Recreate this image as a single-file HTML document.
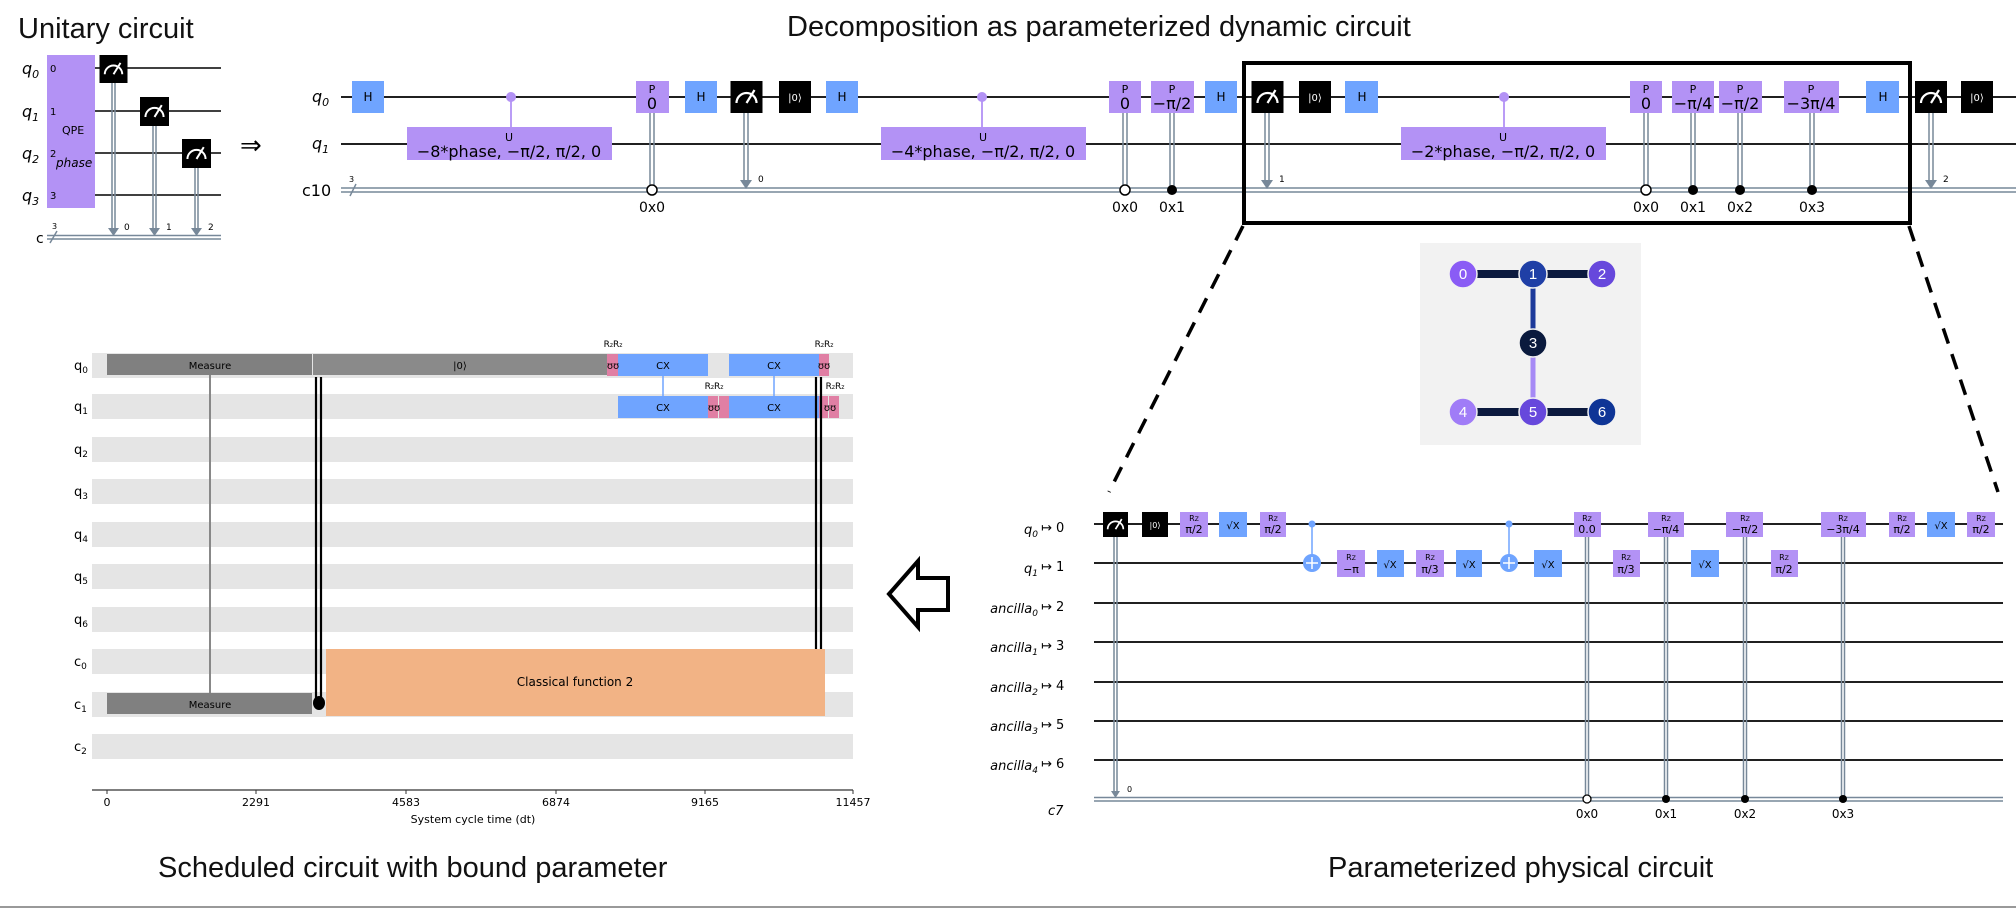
<!DOCTYPE html>
<html><head><meta charset="utf-8"><style>
html,body{margin:0;padding:0;background:#fff;}
svg{display:block;}
.t{font-family:"Liberation Sans",sans-serif;}
.d{font-family:"DejaVu Sans","Liberation Sans",sans-serif;}
</style></head><body>
<svg width="2016" height="910" viewBox="0 0 2016 910" xmlns="http://www.w3.org/2000/svg">
<defs>
<symbol id="meas" viewBox="0 0 32 32">
<rect x="0" y="0" width="32" height="32" fill="#000"/>
<path d="M6 22 A10 10 0 0 1 26 22" fill="none" stroke="#fff" stroke-width="2.2"/>
<line x1="16" y1="22" x2="24" y2="9" stroke="#fff" stroke-width="2.2"/>
</symbol>
</defs>

<!-- Titles -->
<text x="18" y="38" class="t" font-size="29" fill="#111">Unitary circuit</text>
<text x="787" y="36" class="t" font-size="29" fill="#111">Decomposition as parameterized dynamic circuit</text>
<text x="158" y="877" class="t" font-size="29" fill="#111">Scheduled circuit with bound parameter</text>
<text x="1328" y="877" class="t" font-size="29" fill="#111">Parameterized physical circuit</text>
<line x1="0" y1="907" x2="2016" y2="907" stroke="#999" stroke-width="2"/>

<!-- ===== Unitary circuit ===== -->
<g class="d">
<text x="22" y="74" font-size="16" font-style="italic">q<tspan font-size="11" dy="4">0</tspan></text>
<text x="22" y="117" font-size="16" font-style="italic">q<tspan font-size="11" dy="4">1</tspan></text>
<text x="22" y="159" font-size="16" font-style="italic">q<tspan font-size="11" dy="4">2</tspan></text>
<text x="22" y="201" font-size="16" font-style="italic">q<tspan font-size="11" dy="4">3</tspan></text>
<text x="36" y="243" font-size="14">c</text>
<g stroke="#000" stroke-width="1.5">
<line x1="95" y1="68" x2="221" y2="68"/>
<line x1="95" y1="111" x2="221" y2="111"/>
<line x1="95" y1="153" x2="221" y2="153"/>
<line x1="95" y1="195" x2="221" y2="195"/>
</g>
<line x1="47" y1="235.5" x2="221" y2="235.5" stroke="#778899" stroke-width="1.5"/>
<line x1="47" y1="239" x2="221" y2="239" stroke="#778899" stroke-width="1.5"/>
<line x1="50" y1="243" x2="57" y2="231" stroke="#778899" stroke-width="1.5"/>
<text x="52" y="229" font-size="8">3</text>
<rect x="47" y="55" width="48" height="153" fill="#b392f5"/>
<text x="50" y="72" font-size="10">0</text>
<text x="50" y="115" font-size="10">1</text>
<text x="50" y="157" font-size="10">2</text>
<text x="50" y="199" font-size="10">3</text>
<text x="62" y="134" font-size="11">QPE</text>
<text x="56" y="167" font-size="12" font-style="italic">phase</text>
<g stroke="#778899" stroke-width="1.5">
<line x1="112" y1="83" x2="112" y2="229"/><line x1="115" y1="83" x2="115" y2="229"/>
<line x1="153" y1="126" x2="153" y2="229"/><line x1="156" y1="126" x2="156" y2="229"/>
<line x1="195" y1="168" x2="195" y2="229"/><line x1="198" y1="168" x2="198" y2="229"/>
</g>
<polygon points="108,228 119,228 113.5,236" fill="#778899"/>
<polygon points="149,228 160,228 154.5,236" fill="#778899"/>
<polygon points="191,228 202,228 196.5,236" fill="#778899"/>
<text x="124" y="230" font-size="9">0</text>
<text x="166" y="230" font-size="9">1</text>
<text x="208" y="230" font-size="9">2</text>
<use href="#meas" x="99" y="55" width="29" height="28"/>
<use href="#meas" x="140" y="97" width="29" height="29"/>
<use href="#meas" x="182" y="139" width="29" height="29"/>
</g>
<text x="240" y="154" class="d" font-size="26">⇒</text>

<!-- ===== Top dynamic circuit ===== -->
<g class="d">
<text x="312" y="102" font-size="16" font-style="italic">q<tspan font-size="11" dy="4">0</tspan></text>
<text x="312" y="149" font-size="16" font-style="italic">q<tspan font-size="11" dy="4">1</tspan></text>
<text x="302" y="196" font-size="16">c10</text>
<line x1="341" y1="97" x2="2016" y2="97" stroke="#000" stroke-width="1.8"/>
<line x1="341" y1="144" x2="2016" y2="144" stroke="#000" stroke-width="1.8"/>
<line x1="341" y1="188" x2="2016" y2="188" stroke="#778899" stroke-width="1.6"/>
<line x1="341" y1="192" x2="2016" y2="192" stroke="#778899" stroke-width="1.6"/>
<line x1="350" y1="196" x2="356" y2="184" stroke="#778899" stroke-width="1.5"/>
<text x="349" y="182" font-size="8">3</text>

<!-- conditional lines -->
<g stroke="#778899" stroke-width="1.5">
<line x1="650" y1="113" x2="650" y2="190"/><line x1="654" y1="113" x2="654" y2="190"/>
<line x1="1123" y1="113" x2="1123" y2="190"/><line x1="1127" y1="113" x2="1127" y2="190"/>
<line x1="1170" y1="113" x2="1170" y2="190"/><line x1="1174" y1="113" x2="1174" y2="190"/>
<line x1="1644" y1="113" x2="1644" y2="190"/><line x1="1648" y1="113" x2="1648" y2="190"/>
<line x1="1691" y1="113" x2="1691" y2="190"/><line x1="1695" y1="113" x2="1695" y2="190"/>
<line x1="1738" y1="113" x2="1738" y2="190"/><line x1="1742" y1="113" x2="1742" y2="190"/>
<line x1="1810" y1="113" x2="1810" y2="190"/><line x1="1814" y1="113" x2="1814" y2="190"/>
<line x1="744" y1="113" x2="744" y2="181"/><line x1="748" y1="113" x2="748" y2="181"/>
<line x1="1265" y1="113" x2="1265" y2="181"/><line x1="1269" y1="113" x2="1269" y2="181"/>
<line x1="1929" y1="113" x2="1929" y2="181"/><line x1="1933" y1="113" x2="1933" y2="181"/>
</g>
<polygon points="740,180 752,180 746,189" fill="#778899"/>
<polygon points="1261,180 1273,180 1267,189" fill="#778899"/>
<polygon points="1925,180 1937,180 1931,189" fill="#778899"/>
<text x="758" y="182" font-size="9">0</text>
<text x="1279" y="182" font-size="9">1</text>
<text x="1943" y="182" font-size="9">2</text>
<circle cx="652" cy="190" r="5" fill="#fff" stroke="#000" stroke-width="1.5"/>
<circle cx="1125" cy="190" r="5" fill="#fff" stroke="#000" stroke-width="1.5"/>
<circle cx="1172" cy="190" r="5" fill="#000"/>
<circle cx="1646" cy="190" r="5" fill="#fff" stroke="#000" stroke-width="1.5"/>
<circle cx="1693" cy="190" r="5" fill="#000"/>
<circle cx="1740" cy="190" r="5" fill="#000"/>
<circle cx="1812" cy="190" r="5" fill="#000"/>
<g font-size="14" text-anchor="middle">
<text x="652" y="212">0x0</text>
<text x="1125" y="212">0x0</text><text x="1172" y="212">0x1</text>
<text x="1646" y="212">0x0</text><text x="1693" y="212">0x1</text>
<text x="1740" y="212">0x2</text><text x="1812" y="212">0x3</text>
</g>

<!-- H gates -->
<g fill="#6fa4ff">
<rect x="352" y="81" width="32" height="32"/><rect x="685" y="81" width="32" height="32"/>
<rect x="826" y="81" width="32" height="32"/><rect x="1205" y="81" width="32" height="32"/>
<rect x="1345" y="81" width="33" height="32"/><rect x="1866" y="81" width="33" height="32"/>
</g>
<g font-size="12" text-anchor="middle">
<text x="368" y="101">H</text><text x="701" y="101">H</text><text x="842" y="101">H</text>
<text x="1221" y="101">H</text><text x="1362" y="101">H</text><text x="1883" y="101">H</text>
</g>
<!-- measure + reset -->
<use href="#meas" x="730" y="81" width="33" height="32"/>
<use href="#meas" x="1251" y="81" width="33" height="32"/>
<use href="#meas" x="1915" y="81" width="32" height="32"/>
<rect x="779" y="81" width="32" height="32" fill="#000"/>
<rect x="1299" y="81" width="32" height="32" fill="#000"/>
<rect x="1961" y="81" width="32" height="32" fill="#000"/>
<g font-size="10" fill="#fff" text-anchor="middle">
<text x="795" y="101">|0⟩</text><text x="1315" y="101">|0⟩</text><text x="1977" y="101">|0⟩</text>
</g>
<!-- P gates -->
<g fill="#b392f5">
<rect x="636" y="81" width="33" height="32"/><rect x="1109" y="81" width="32" height="32"/>
<rect x="1151" y="81" width="43" height="32"/><rect x="1630" y="81" width="32" height="32"/>
<rect x="1672" y="81" width="42" height="32"/><rect x="1719" y="81" width="43" height="32"/>
<rect x="1784" y="81" width="55" height="32"/>
</g>
<g text-anchor="middle">
<g font-size="11">
<text x="652" y="93">P</text><text x="1125" y="93">P</text><text x="1172" y="93">P</text>
<text x="1646" y="93">P</text><text x="1693" y="93">P</text><text x="1740" y="93">P</text><text x="1811" y="93">P</text>
</g>
<g font-size="16">
<text x="652" y="109">0</text><text x="1125" y="109">0</text><text x="1172" y="109">−π/2</text>
<text x="1646" y="109">0</text><text x="1693" y="109">−π/4</text><text x="1740" y="109">−π/2</text><text x="1811" y="109">−3π/4</text>
</g>
</g>
<!-- U gates -->
<g stroke="#b392f5" stroke-width="1.8">
<line x1="511" y1="97" x2="511" y2="128"/><line x1="982" y1="97" x2="982" y2="128"/><line x1="1504" y1="97" x2="1504" y2="128"/>
</g>
<g fill="#b392f5">
<circle cx="511" cy="97" r="5"/><circle cx="982" cy="97" r="5"/><circle cx="1504" cy="97" r="5"/>
<rect x="407" y="127" width="205" height="33"/><rect x="881" y="127" width="205" height="33"/><rect x="1401" y="127" width="205" height="33"/>
</g>
<g text-anchor="middle">
<text x="509" y="141" font-size="11">U</text><text x="983" y="141" font-size="11">U</text><text x="1503" y="141" font-size="11">U</text>
<text x="509" y="157" font-size="16">−8*phase, −π/2, π/2, 0</text>
<text x="983" y="157" font-size="16">−4*phase, −π/2, π/2, 0</text>
<text x="1503" y="157" font-size="16">−2*phase, −π/2, π/2, 0</text>
</g>
</g>

<!-- zoom box and dashed lines -->
<rect x="1244" y="63" width="666" height="160" fill="none" stroke="#000" stroke-width="4"/>
<line x1="1243" y1="226" x2="1109" y2="492" stroke="#000" stroke-width="3.5" stroke-dasharray="16,11"/>
<line x1="1909" y1="226" x2="1998" y2="492" stroke="#000" stroke-width="3.5" stroke-dasharray="16,11"/>

<!-- coupling map -->
<rect x="1420" y="243" width="221" height="202" fill="#f2f2f2"/>
<line x1="1463" y1="274" x2="1602" y2="274" stroke="#0c1a3f" stroke-width="8"/>
<line x1="1463" y1="412" x2="1602" y2="412" stroke="#0c1a3f" stroke-width="8"/>
<line x1="1533" y1="274" x2="1533" y2="343" stroke="#1d3a9a" stroke-width="5"/>
<line x1="1533" y1="343" x2="1533" y2="412" stroke="#a68af5" stroke-width="5"/>
<g stroke="#f2f2f2" stroke-width="1.5">
<circle cx="1463" cy="274" r="14" fill="#8a5cf5"/>
<circle cx="1533" cy="274" r="14" fill="#1f3fa6"/>
<circle cx="1602" cy="274" r="14" fill="#6748dc"/>
<circle cx="1533" cy="343" r="14" fill="#0a1a3d"/>
<circle cx="1463" cy="412" r="14" fill="#a07cf7"/>
<circle cx="1533" cy="412" r="14" fill="#6748dc"/>
<circle cx="1602" cy="412" r="14" fill="#0f3596"/>
</g>
<g class="t" font-size="15" fill="#fff" text-anchor="middle">
<text x="1463" y="279">0</text><text x="1533" y="279">1</text><text x="1602" y="279">2</text>
<text x="1533" y="348">3</text><text x="1463" y="417">4</text><text x="1533" y="417">5</text><text x="1602" y="417">6</text>
</g>

<!-- ===== Physical circuit ===== -->
<g class="d">
<g font-size="13" font-style="italic" text-anchor="end">
<text x="1038" y="534">q<tspan font-size="9" dy="3">0</tspan></text>
<text x="1038" y="573">q<tspan font-size="9" dy="3">1</tspan></text>
<text x="1038" y="613">ancilla<tspan font-size="9" dy="3">0</tspan></text>
<text x="1038" y="652">ancilla<tspan font-size="9" dy="3">1</tspan></text>
<text x="1038" y="692">ancilla<tspan font-size="9" dy="3">2</tspan></text>
<text x="1038" y="731">ancilla<tspan font-size="9" dy="3">3</tspan></text>
<text x="1038" y="770">ancilla<tspan font-size="9" dy="3">4</tspan></text>
</g>
<g font-size="13">
<text x="1041" y="532">↦ 0</text><text x="1041" y="571">↦ 1</text><text x="1041" y="611">↦ 2</text>
<text x="1041" y="650">↦ 3</text><text x="1041" y="690">↦ 4</text><text x="1041" y="729">↦ 5</text><text x="1041" y="768">↦ 6</text>
<text x="1048" y="815" font-style="italic">c7</text>
</g>
<g stroke="#000" stroke-width="1.8">
<line x1="1094" y1="524" x2="2003" y2="524"/><line x1="1094" y1="563" x2="2003" y2="563"/>
<line x1="1094" y1="603" x2="2003" y2="603"/><line x1="1094" y1="642" x2="2003" y2="642"/>
<line x1="1094" y1="682" x2="2003" y2="682"/><line x1="1094" y1="721" x2="2003" y2="721"/>
<line x1="1094" y1="760" x2="2003" y2="760"/>
</g>
<line x1="1094" y1="797.5" x2="2003" y2="797.5" stroke="#778899" stroke-width="1.5"/>
<line x1="1094" y1="801" x2="2003" y2="801" stroke="#778899" stroke-width="1.5"/>
<g stroke="#778899" stroke-width="1.5">
<line x1="1114" y1="537" x2="1114" y2="792"/><line x1="1117" y1="537" x2="1117" y2="792"/>
<line x1="1585.5" y1="537" x2="1585.5" y2="799"/><line x1="1588.5" y1="537" x2="1588.5" y2="799"/>
<line x1="1664.5" y1="537" x2="1664.5" y2="799"/><line x1="1667.5" y1="537" x2="1667.5" y2="799"/>
<line x1="1743.5" y1="537" x2="1743.5" y2="799"/><line x1="1746.5" y1="537" x2="1746.5" y2="799"/>
<line x1="1841.5" y1="537" x2="1841.5" y2="799"/><line x1="1844.5" y1="537" x2="1844.5" y2="799"/>
</g>
<polygon points="1111,791 1120,791 1115.5,798" fill="#778899"/>
<text x="1127" y="792" font-size="8">0</text>
<circle cx="1587" cy="799" r="4" fill="#fff" stroke="#000" stroke-width="1.3"/>
<circle cx="1666" cy="799" r="4" fill="#000"/>
<circle cx="1745" cy="799" r="4" fill="#000"/>
<circle cx="1843" cy="799" r="4" fill="#000"/>
<g font-size="12" text-anchor="middle">
<text x="1587" y="818">0x0</text><text x="1666" y="818">0x1</text><text x="1745" y="818">0x2</text><text x="1843" y="818">0x3</text>
</g>
<use href="#meas" x="1102" y="512" width="27" height="25"/>
<rect x="1142" y="512" width="26" height="25" fill="#000"/>
<text x="1155" y="528" font-size="8" fill="#fff" text-anchor="middle">|0⟩</text>
<!-- CX -->
<g stroke="#6fa4ff" stroke-width="1.5">
<line x1="1312" y1="524" x2="1312" y2="563"/><line x1="1509" y1="524" x2="1509" y2="563"/>
</g>
<g fill="#6fa4ff">
<circle cx="1312" cy="524" r="3.5"/><circle cx="1509" cy="524" r="3.5"/>
<circle cx="1312" cy="563" r="9"/><circle cx="1509" cy="563" r="9"/>
</g>
<g stroke="#fff" stroke-width="1.5">
<line x1="1306" y1="563" x2="1318" y2="563"/><line x1="1312" y1="557" x2="1312" y2="569"/>
<line x1="1503" y1="563" x2="1515" y2="563"/><line x1="1509" y1="557" x2="1509" y2="569"/>
</g>
<!-- sqrt X gates -->
<g fill="#6fa4ff">
<rect x="1219" y="512" width="28" height="25"/><rect x="1927" y="512" width="28" height="25"/>
<rect x="1377" y="550" width="27" height="27"/><rect x="1456" y="550" width="26" height="27"/>
<rect x="1534" y="550" width="28" height="27"/><rect x="1691" y="550" width="28" height="27"/>
</g>
<g font-size="10" text-anchor="middle">
<text x="1233" y="529">√X</text><text x="1941" y="529">√X</text>
<text x="1390" y="568">√X</text><text x="1469" y="568">√X</text><text x="1548" y="568">√X</text><text x="1705" y="568">√X</text>
</g>
<!-- Rz gates -->
<g fill="#b392f5">
<rect x="1180" y="512" width="28" height="25"/><rect x="1260" y="512" width="26" height="25"/>
<rect x="1574" y="512" width="27" height="25"/><rect x="1648" y="512" width="36" height="25"/>
<rect x="1726" y="512" width="37" height="25"/><rect x="1821" y="512" width="45" height="25"/>
<rect x="1889" y="512" width="26" height="25"/><rect x="1967" y="512" width="28" height="25"/>
<rect x="1337" y="550" width="28" height="27"/><rect x="1416" y="550" width="28" height="27"/>
<rect x="1613" y="550" width="27" height="27"/><rect x="1771" y="550" width="27" height="27"/>
</g>
<g font-size="8" text-anchor="middle">
<text x="1194" y="521">R<tspan font-size="6">Z</tspan></text><text x="1273" y="521">R<tspan font-size="6">Z</tspan></text>
<text x="1587" y="521">R<tspan font-size="6">Z</tspan></text><text x="1666" y="521">R<tspan font-size="6">Z</tspan></text>
<text x="1745" y="521">R<tspan font-size="6">Z</tspan></text><text x="1843" y="521">R<tspan font-size="6">Z</tspan></text>
<text x="1902" y="521">R<tspan font-size="6">Z</tspan></text><text x="1981" y="521">R<tspan font-size="6">Z</tspan></text>
<text x="1351" y="560">R<tspan font-size="6">Z</tspan></text><text x="1430" y="560">R<tspan font-size="6">Z</tspan></text>
<text x="1626" y="560">R<tspan font-size="6">Z</tspan></text><text x="1784" y="560">R<tspan font-size="6">Z</tspan></text>
</g>
<g font-size="11" text-anchor="middle">
<text x="1194" y="533">π/2</text><text x="1273" y="533">π/2</text>
<text x="1587" y="533">0.0</text><text x="1666" y="533">−π/4</text>
<text x="1745" y="533">−π/2</text><text x="1843" y="533">−3π/4</text>
<text x="1902" y="533">π/2</text><text x="1981" y="533">π/2</text>
<text x="1351" y="573">−π</text><text x="1430" y="573">π/3</text>
<text x="1626" y="573">π/3</text><text x="1784" y="573">π/2</text>
</g>
</g>

<!-- big left arrow -->
<path d="M889 594 L918 561 L918 578 L948 578 L948 610 L918 610 L918 627 Z" fill="#fff" stroke="#000" stroke-width="4" stroke-linejoin="miter"/>

<!-- ===== Schedule ===== -->
<g class="d">
<g fill="#e5e5e5">
<rect x="92" y="353" width="761" height="25"/><rect x="92" y="394" width="761" height="25"/>
<rect x="92" y="437" width="761" height="25"/><rect x="92" y="479" width="761" height="25"/>
<rect x="92" y="522" width="761" height="25"/><rect x="92" y="564" width="761" height="25"/>
<rect x="92" y="607" width="761" height="25"/><rect x="92" y="649" width="761" height="25"/>
<rect x="92" y="692" width="761" height="25"/><rect x="92" y="734" width="761" height="25"/>
</g>
<g font-size="13">
<text x="74" y="370">q<tspan font-size="9" dy="3">0</tspan></text>
<text x="74" y="411">q<tspan font-size="9" dy="3">1</tspan></text>
<text x="74" y="454">q<tspan font-size="9" dy="3">2</tspan></text>
<text x="74" y="496">q<tspan font-size="9" dy="3">3</tspan></text>
<text x="74" y="539">q<tspan font-size="9" dy="3">4</tspan></text>
<text x="74" y="581">q<tspan font-size="9" dy="3">5</tspan></text>
<text x="74" y="624">q<tspan font-size="9" dy="3">6</tspan></text>
<text x="74" y="666">c<tspan font-size="9" dy="3">0</tspan></text>
<text x="74" y="709">c<tspan font-size="9" dy="3">1</tspan></text>
<text x="74" y="751">c<tspan font-size="9" dy="3">2</tspan></text>
</g>
<rect x="107" y="354" width="205" height="21" fill="#808080"/>
<rect x="313" y="354" width="294" height="21" fill="#8a8a8a"/>
<rect x="107" y="693" width="205" height="21" fill="#808080"/>
<line x1="210" y1="375" x2="210" y2="693" stroke="#888" stroke-width="2"/>
<rect x="326" y="649" width="499" height="67" fill="#f2b385"/>
<g fill="#6fa4ff">
<rect x="618" y="354" width="90" height="22"/><rect x="729" y="354" width="90" height="22"/>
<rect x="618" y="396" width="90" height="22"/><rect x="729" y="396" width="90" height="22"/>
</g>
<line x1="663" y1="376" x2="663" y2="396" stroke="#6fa4ff" stroke-width="1.5"/>
<line x1="774" y1="376" x2="774" y2="396" stroke="#6fa4ff" stroke-width="1.5"/>
<g fill="#e07fa4">
<rect x="607" y="354" width="11" height="22"/><rect x="819" y="354" width="10" height="22"/>
<rect x="708" y="396" width="10" height="22"/><rect x="719" y="396" width="10" height="22"/>
<rect x="819" y="396" width="9" height="22"/><rect x="829" y="396" width="10" height="22"/>
</g>
<g stroke="#000" stroke-width="2.2">
<line x1="316" y1="377" x2="316" y2="703"/><line x1="321" y1="377" x2="321" y2="703"/>
<line x1="816" y1="377" x2="816" y2="649"/><line x1="821" y1="377" x2="821" y2="649"/>
</g>
<ellipse cx="319" cy="703" rx="6" ry="7" fill="#000"/>
<g font-size="10" text-anchor="middle">
<text x="210" y="369">Measure</text>
<text x="210" y="708">Measure</text>
<text x="460" y="369">|0⟩</text>
<text x="663" y="369">CX</text><text x="774" y="369">CX</text>
<text x="663" y="411">CX</text><text x="774" y="411">CX</text>
<text x="575" y="686" font-size="12">Classical function 2</text>
<text x="613" y="347" font-size="9">R<tspan font-size="6">z</tspan>R<tspan font-size="6">z</tspan></text>
<text x="824" y="347" font-size="9">R<tspan font-size="6">z</tspan>R<tspan font-size="6">z</tspan></text>
<text x="714" y="389" font-size="9">R<tspan font-size="6">z</tspan>R<tspan font-size="6">z</tspan></text>
<text x="835" y="389" font-size="9">R<tspan font-size="6">z</tspan>R<tspan font-size="6">z</tspan></text>
<text x="613" y="369" font-size="10">ʊʊ</text><text x="824" y="369" font-size="10">ʊʊ</text>
<text x="714" y="411" font-size="10">ʊʊ</text><text x="830" y="411" font-size="10">ʊʊ</text>
</g>
<line x1="92" y1="790" x2="853" y2="790" stroke="#333" stroke-width="1.2"/>
<g stroke="#333" stroke-width="1">
<line x1="107" y1="790" x2="107" y2="794"/><line x1="256" y1="790" x2="256" y2="794"/>
<line x1="406" y1="790" x2="406" y2="794"/><line x1="556" y1="790" x2="556" y2="794"/>
<line x1="705" y1="790" x2="705" y2="794"/><line x1="853" y1="790" x2="853" y2="794"/>
</g>
<g font-size="11" text-anchor="middle">
<text x="107" y="806">0</text><text x="256" y="806">2291</text><text x="406" y="806">4583</text>
<text x="556" y="806">6874</text><text x="705" y="806">9165</text><text x="853" y="806">11457</text>
<text x="473" y="823">System cycle time (dt)</text>
</g>
</g>
</svg>
</body></html>
